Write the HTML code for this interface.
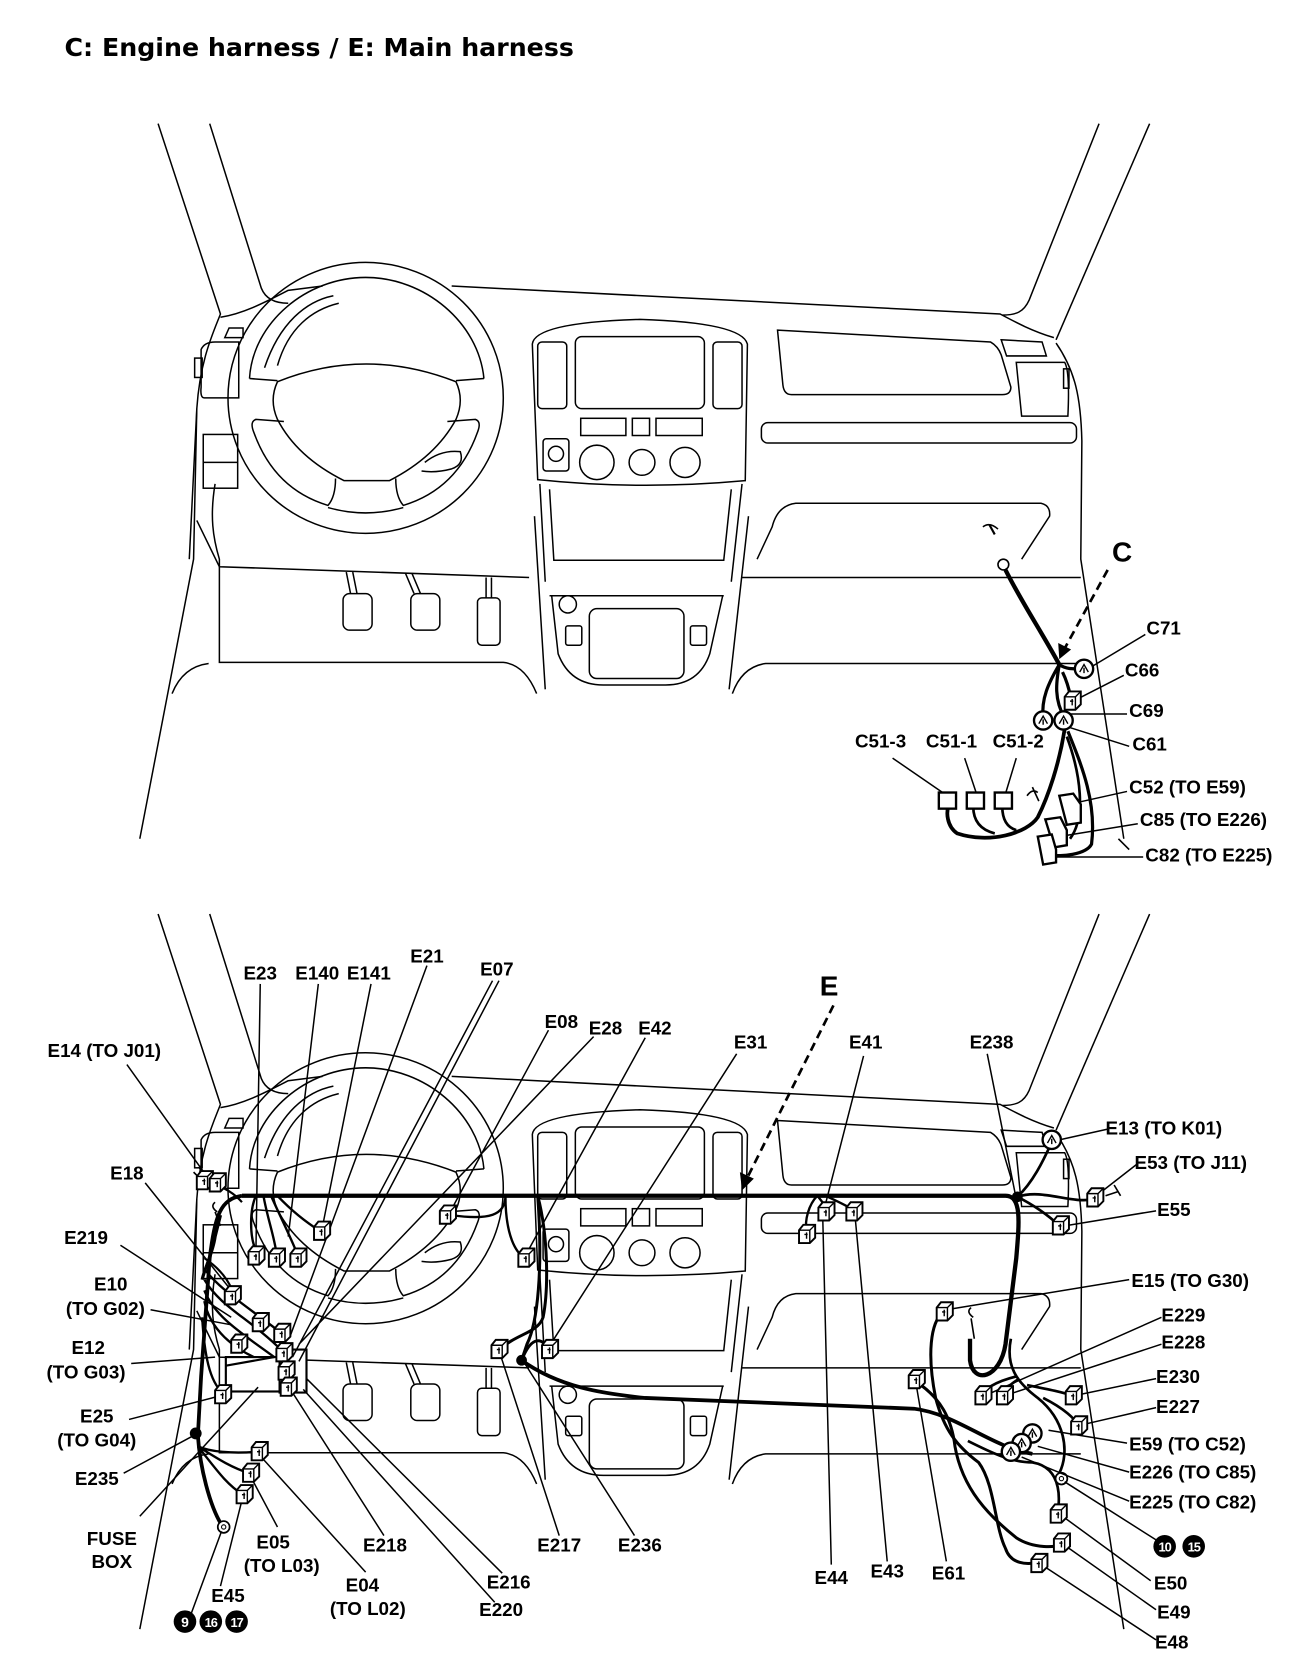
<!DOCTYPE html>
<html><head><meta charset="utf-8"><style>
html,body{margin:0;padding:0;background:#fff}
svg{display:block}
text{font-family:"Liberation Sans",Arial,sans-serif;font-weight:bold;font-size:17.5px;fill:#000}
.t{font-family:"DejaVu Sans","Liberation Sans",sans-serif;font-size:23.5px;font-weight:bold}
</style></head><body>
<svg width="1312" height="1670" viewBox="0 0 1220 1553" preserveAspectRatio="none" xmlns="http://www.w3.org/2000/svg">
<defs>
<g id="cube"><path d="M-7,-4 L-3,-9 L8,-9 L8,3 L3,8 L-7,8 Z" fill="#fff" stroke="#000" stroke-width="1.8"/><path d="M-7,-4 L3,-4 L8,-9 M3,-4 L3,8 M-2,0 L1,0 M0,-2 L0,4" fill="none" stroke="#000" stroke-width="1.3"/></g>
<g id="hex"><circle r="8.5" fill="#fff" stroke="#000" stroke-width="2.2"/><path d="M-4,3 L0,-4 L4,3 M0,-1 L0,4" fill="none" stroke="#000" stroke-width="1.3"/></g>
<g id="dash" fill="none" stroke="#000" stroke-width="1.4">
<path d="M147,115 L205,292 C198,310 186,335 183,380 L176,520"/>
<path d="M195,115 L243,268 C247,278 256,282 268,282"/>
<path d="M205,295 C225,292 245,282 268,270 L300,266"/>
<path d="M420,266 L930,292 C945,300 960,308 980,314"/>
<path d="M1069,115 L982,316"/>
<path d="M1022,115 L957,279 C952,290 945,293 932,293"/>
<path d="M982,319 C1000,345 1005,370 1006,410 L1005,520 L1045,780"/>
<path d="M183,380 L180,520 L130,780"/>
<path d="M200,450 C195,480 198,500 204,520 L204,527"/>
<path d="M187,325 Q190,318 200,318 L222,318 L222,370 L190,370 Q186,370 187,360 Z"/>
<rect x="189" y="404" width="32" height="50"/><line x1="189" y1="430" x2="221" y2="430"/>
<path d="M209,314 L213,305 L226,305 L226,314 Z"/>
<rect x="181" y="333" width="7" height="18"/>
<ellipse cx="340" cy="370" rx="128" ry="126"/>
<path d="M232,352 C235,300 285,258 340,258 C395,258 445,300 450,352"/>
<path d="M232,352 L258,354"/><path d="M450,352 L424,354"/>
<path d="M246,342 C260,300 285,280 310,275 M258,340 C268,305 290,288 315,282"/>
<path d="M258,355 Q340,322 424,355 Q432,372 424,390 Q405,425 362,447 L320,447 Q276,425 258,390 Q250,372 258,355 Z"/>
<path d="M264,392 L238,390 Q232,392 236,402 Q255,455 305,470 Q312,462 312,445"/>
<path d="M416,392 L442,390 Q448,392 444,402 Q425,455 375,470 Q368,462 368,445"/>
<path d="M305,472 Q340,482 375,472"/>
<path d="M395,430 Q410,418 428,420 Q432,432 420,436 Q405,440 392,438"/>
<path d="M495,320 Q497,300 595,297 Q690,300 695,320 L693,447 Q595,456 500,446 Z"/>
<rect x="535" y="313" width="120" height="67" rx="6"/>
<rect x="500" y="318" width="27" height="62" rx="4"/><rect x="663" y="318" width="27" height="62" rx="4"/>
<rect x="540" y="389" width="42" height="16"/><rect x="588" y="389" width="16" height="16"/><rect x="610" y="389" width="43" height="16"/>
<circle cx="555" cy="430" r="16"/><circle cx="597" cy="430" r="12"/><circle cx="637" cy="430" r="14"/>
<rect x="505" y="408" width="24" height="30" rx="3"/><circle cx="517" cy="422" r="7"/>
<path d="M502,450 L507,541 M497,480 L507,641"/>
<path d="M690,450 L680,541 M696,480 L678,641"/>
<path d="M511,455 L515,521 L673,521 L680,455"/>
<path d="M511,554 L673,554"/>
<path d="M513,554 L519,608 Q530,637 561,637 L619,637 Q650,637 660,608 L672,554"/>
<circle cx="528" cy="562" r="8"/>
<rect x="526" y="582" width="15" height="18" rx="2"/><rect x="642" y="582" width="15" height="18" rx="2"/>
<rect x="548" y="566" width="88" height="65" rx="7"/>
<path d="M183,484 L204,527 L492,537"/>
<path d="M204,527 L204,616 L468,616 Q488,618 499,645"/>
<path d="M194,617 Q170,620 160,645"/>
<path d="M690,537 L1005,537"/>
<path d="M681,645 Q690,620 712,617 L1005,617"/>
<rect x="319" y="552" width="27" height="34" rx="6"/><rect x="382" y="552" width="27" height="34" rx="6"/><rect x="444" y="556" width="21" height="44" rx="4"/>
<path d="M322,532 L326,552 M328,532 L332,552 M377,533 L385,552 M383,533 L391,552 M452,537 L452,556 M457,537 L457,556"/>
<path d="M723,307 L921,318 Q928,322 931,330 L940,360 Q940,367 932,367 L736,367 Q729,367 728,358 Z"/>
<rect x="708" y="393" width="293" height="19" rx="6"/>
<path d="M945,337 L990,337 Q995,345 993,387 L950,387 Z"/>
<path d="M931,316 L969,318 L973,331 L936,331 Z"/>
<rect x="989" y="343" width="5" height="18"/>
<path d="M704,520 L718,490 Q723,470 740,468 L968,468 Q977,470 976,480 L950,520"/>
</g>
</defs>
<text x="60" y="52" class="t">C: Engine harness / E: Main harness</text>

<use href="#dash"/>
<use href="#dash" transform="translate(0,735)"/>

<!-- TOP: C harness -->
<g fill="none" stroke="#000">
<path d="M920,488 L925,497" stroke-width="2"/><path d="M914,490 Q920,485 928,492" stroke-width="1.5"/>
<circle cx="933" cy="525" r="5" fill="#fff" stroke-width="1.5"/>
<path d="M935,530 C950,560 970,590 985,618" stroke-width="4"/>
<path d="M985,618 C975,635 968,650 970,668 M985,618 C982,635 980,650 990,668 M985,618 C995,625 1005,620 1010,622 M988,625 C993,635 995,645 996,650" stroke-width="3"/>
<path d="M990,678 C985,710 975,740 965,760 C955,775 920,785 890,775 C880,768 880,755 882,750" stroke-width="3.5"/>
<path d="M905,750 Q905,770 925,775 M932,750 Q932,768 945,772" stroke-width="2.5"/>
<path d="M993,680 C1005,710 1020,745 1015,785 C1010,795 985,797 978,795" stroke-width="3"/>
<path d="M992,685 C1005,720 1010,760 995,780" stroke-width="2.5"/>
<path d="M955,740 Q960,733 965,737 M960,732 L966,745 M1040,780 L1050,790" stroke-width="1.5"/>
<line x1="1030" y1="530" x2="990" y2="603" stroke-width="2.5" stroke-dasharray="8,5"/>
<path d="M985,613 L984,598 L996,604 Z" fill="#000" stroke="none"/>
<path d="M1065,590 L1015,620 M1045,628 L1002,650 M1048,664 L993,664 M1050,694 L993,676 M830,705 L878,738 M897,705 L908,738 M945,705 L935,738 M1048,736 L1003,746 M1058,766 L991,777 M1063,797 L980,797" stroke-width="1.4"/>
</g>
<use href="#hex" x="1008" y="622"/><use href="#cube" x="997" y="652"/><use href="#hex" x="970" y="670"/><use href="#hex" x="989" y="670"/>
<g fill="#fff" stroke="#000" stroke-width="2.2"><rect x="873" y="737" width="16" height="15"/><rect x="899" y="737" width="16" height="15"/><rect x="925" y="737" width="16" height="15"/>
<path d="M985,740 L998,738 L1005,748 L1005,765 L992,767 Z"/><path d="M972,762 L986,760 L992,772 L992,786 L980,788 Z"/><path d="M965,778 L978,776 L982,790 L982,802 L970,804 Z"/></g>
<text x="1034" y="522" style="font-size:26px">C</text>
<text x="1066" y="590">C71</text><text x="1046" y="629">C66</text><text x="1050" y="667">C69</text><text x="1053" y="698">C61</text>
<text x="795" y="695">C51-3</text><text x="861" y="695">C51-1</text><text x="923" y="695">C51-2</text>
<text x="1050" y="738">C52 (TO E59)</text><text x="1060" y="768">C85 (TO E226)</text><text x="1065" y="801">C82 (TO E225)</text>

<!-- BOTTOM: E harness -->
<g fill="none" stroke="#000">
<path d="M225,1112 L935,1112 C950,1112 948,1135 945,1170 L935,1250 C930,1282 905,1288 902,1265 L902,1245" stroke-width="4"/>
<path d="M225,1112 C205,1115 200,1130 195,1170 L187,1280 L184,1335 C186,1365 195,1400 206,1418" stroke-width="3.5"/>
<path d="M205,1130 L200,1150 C198,1165 190,1180 188,1190" stroke-width="3"/>
<path d="M190,1180 C205,1200 230,1215 262,1240 M190,1190 C205,1215 230,1225 258,1252 M190,1200 C200,1225 225,1240 255,1262 M190,1210 C195,1235 215,1255 250,1268 M188,1225 C190,1260 195,1285 207,1295" stroke-width="2.2"/>
<path d="M190,1170 C205,1180 212,1190 216,1200" stroke-width="2"/>
<path d="M196,1100 C210,1105 218,1110 225,1118" stroke-width="2"/>
<path d="M238,1112 C232,1125 232,1150 238,1163 M245,1112 C248,1130 255,1150 257,1165 M252,1112 C260,1130 270,1150 276,1165 M258,1112 C275,1130 290,1140 298,1145" stroke-width="2.2"/>
<path d="M470,1112 C470,1130 455,1135 420,1130 M470,1112 C470,1150 480,1165 488,1170" stroke-width="2.2"/>
<path d="M500,1112 C510,1150 510,1200 505,1225 C500,1240 480,1240 465,1255 M500,1112 C505,1180 500,1230 490,1250 L485,1265 C495,1240 505,1245 510,1255" stroke-width="2.8"/>
<path d="M485,1265 C520,1290 560,1296 600,1300 L850,1310 C890,1315 920,1345 960,1352" stroke-width="3.5"/>
<circle cx="485" cy="1265" r="4.5" fill="#000"/>
<path d="M760,1112 C752,1120 748,1135 750,1145 M760,1112 C765,1118 768,1122 768,1126 M768,1112 C780,1118 790,1122 793,1126" stroke-width="2.2"/>
<circle cx="946" cy="1113" r="4.5" fill="#000"/>
<path d="M946,1113 C960,1100 970,1080 978,1062 M946,1113 C970,1105 995,1120 1018,1115 M946,1113 C960,1120 975,1130 985,1140" stroke-width="2.5"/>
<path d="M1028,1112 L1040,1108 M1036,1102 L1042,1112" stroke-width="1.5"/>
<path d="M877,1220 C865,1230 862,1260 870,1300 C878,1330 890,1345 910,1360 C925,1380 925,1420 935,1440 C940,1455 955,1455 965,1453" stroke-width="2.8"/>
<path d="M852,1285 C875,1300 885,1320 888,1345 C895,1385 920,1410 945,1430 C960,1440 985,1440 986,1435" stroke-width="2.8"/>
<path d="M940,1245 C935,1270 945,1285 965,1300 C990,1320 995,1350 985,1370 M945,1280 C925,1285 915,1292 913,1298 M948,1282 C935,1290 933,1295 933,1298 M955,1288 C975,1292 990,1295 997,1298 M970,1300 C990,1310 1000,1320 1002,1325" stroke-width="2.5"/>
<path d="M900,1340 C920,1350 940,1360 960,1360 C990,1365 985,1400 983,1408" stroke-width="2.5"/>
<path d="M184,1345 C195,1350 215,1352 240,1350 M184,1345 C200,1355 215,1365 232,1370 M184,1345 C200,1365 210,1380 226,1390" stroke-width="2.2"/>
<path d="M202,1127 Q195,1122 200,1118 M200,1127 L205,1140" stroke-width="1.5"/>
<path d="M905,1225 Q898,1220 903,1216 M903,1226 L906,1245" stroke-width="1.5"/>
<path d="M185,1085 L190,1095 M180,1090 L188,1098" stroke-width="1.5"/>
<circle cx="182" cy="1333" r="5" fill="#000"/>
<circle cx="208" cy="1420" r="5.5" fill="#fff" stroke-width="1.6"/><circle cx="208" cy="1420" r="2" fill="#fff" stroke-width="1"/>
<circle cx="987" cy="1375" r="5.5" fill="#fff" stroke-width="1.6"/><circle cx="987" cy="1375" r="2" fill="#fff" stroke-width="1"/>
<rect x="210" y="1262" width="50" height="32" fill="#fff" stroke-width="2"/>
<path d="M210,1270 L255,1262 M260,1255 L285,1255 L285,1295 L260,1295 Z" stroke-width="2" fill="#fff"/>
<line x1="775" y1="935" x2="695" y2="1095" stroke-width="2.5" stroke-dasharray="8,5"/>
<path d="M690,1107 L688,1090 L701,1096 Z" fill="#000" stroke="none"/>
<g stroke-width="1.4">
<path d="M118,990 L193,1095 M135,1100 L215,1200 M112,1158 L215,1225 M140,1218 L215,1232 M122,1268 L200,1262 M120,1320 L205,1298 M115,1370 L180,1335 M130,1410 L240,1290"/>
<path d="M205,1475 L225,1395 M178,1500 L206,1424 M258,1420 L233,1373 M340,1462 L243,1355 M357,1428 L272,1295 M467,1463 L285,1282 M460,1490 L282,1292"/>
<path d="M520,1428 L466,1262 M590,1428 L488,1268 M773,1455 L765,1130 M825,1452 L795,1130 M880,1452 L852,1288"/>
<path d="M242,915 L238,1162 M296,915 L268,1150 M345,915 L300,1140 M397,898 L270,1242 M458,912 L272,1262 M464,912 L278,1266 M510,958 L418,1128 M552,964 L278,1250 M600,965 L490,1165 M685,980 L512,1250"/>
<path d="M803,982 L767,1122 M918,980 L944,1110 M1030,1050 L985,1060 M1058,1082 L1022,1110 M1075,1126 L990,1140 M1050,1190 L880,1218"/>
<path d="M1080,1225 L920,1296 M1080,1250 L940,1296 M1075,1282 L1003,1297 M1075,1309 L1006,1325 M1048,1342 L975,1330 M1050,1369 L965,1345 M1050,1396 L950,1355 M1075,1432 L990,1378 M1070,1470 L988,1410 M1075,1497 L990,1437 M1075,1525 L970,1456"/>
</g>
</g>
<use href="#cube" x="190" y="1098"/><use href="#cube" x="202" y="1100"/>
<use href="#cube" x="216" y="1205"/><use href="#cube" x="242" y="1230"/><use href="#cube" x="262" y="1240"/><use href="#cube" x="264" y="1258"/><use href="#cube" x="266" y="1275"/><use href="#cube" x="268" y="1290"/><use href="#cube" x="222" y="1250"/>
<use href="#cube" x="207" y="1297"/>
<use href="#cube" x="238" y="1168"/><use href="#cube" x="257" y="1170"/><use href="#cube" x="277" y="1170"/><use href="#cube" x="299" y="1145"/>
<use href="#cube" x="416" y="1130"/><use href="#cube" x="489" y="1170"/><use href="#cube" x="464" y="1255"/><use href="#cube" x="511" y="1255"/>
<use href="#cube" x="241" y="1350"/><use href="#cube" x="233" y="1370"/><use href="#cube" x="227" y="1390"/>
<use href="#cube" x="750" y="1148"/><use href="#cube" x="768" y="1127"/><use href="#cube" x="794" y="1127"/>
<use href="#cube" x="986" y="1140"/><use href="#hex" x="978" y="1060"/><use href="#cube" x="1018" y="1114"/>
<use href="#cube" x="878" y="1220"/><use href="#cube" x="852" y="1283"/>
<use href="#cube" x="914" y="1298"/><use href="#cube" x="934" y="1298"/><use href="#cube" x="998" y="1298"/><use href="#cube" x="1003" y="1326"/>
<use href="#hex" x="960" y="1333"/><use href="#hex" x="950" y="1342"/><use href="#hex" x="940" y="1350"/>
<use href="#cube" x="984" y="1408"/><use href="#cube" x="987" y="1435"/><use href="#cube" x="966" y="1454"/>
<g text-anchor="middle">
<text x="771" y="926" style="font-size:26px">E</text>
<text x="97" y="983">E14 (TO J01)</text><text x="118" y="1097">E18</text><text x="80" y="1157">E219</text>
<text x="103" y="1200">E10</text><text x="98" y="1223">(TO G02)</text>
<text x="82" y="1259">E12</text><text x="80" y="1282">(TO G03)</text>
<text x="90" y="1323">E25</text><text x="90" y="1345">(TO G04)</text><text x="90" y="1381">E235</text>
<text x="104" y="1437">FUSE</text><text x="104" y="1458">BOX</text>
<text x="212" y="1490">E45</text>
<text x="254" y="1440">E05</text><text x="262" y="1462">(TO L03)</text>
<text x="337" y="1480">E04</text><text x="342" y="1502">(TO L02)</text>
<text x="358" y="1443">E218</text><text x="473" y="1477">E216</text><text x="466" y="1503">E220</text>
<text x="520" y="1443">E217</text><text x="595" y="1443">E236</text>
<text x="773" y="1473">E44</text><text x="825" y="1467">E43</text><text x="882" y="1469">E61</text>
<text x="242" y="911">E23</text><text x="295" y="911">E140</text><text x="343" y="911">E141</text><text x="397" y="895">E21</text><text x="462" y="907">E07</text>
<text x="522" y="956">E08</text><text x="563" y="962">E28</text><text x="609" y="962">E42</text><text x="698" y="975">E31</text><text x="805" y="975">E41</text><text x="922" y="975">E238</text>
</g>
<text x="1028" y="1055">E13 (TO K01)</text><text x="1055" y="1087">E53 (TO J11)</text><text x="1076" y="1131">E55</text>
<text x="1052" y="1197">E15 (TO G30)</text><text x="1080" y="1229">E229</text><text x="1080" y="1254">E228</text>
<text x="1075" y="1286">E230</text><text x="1075" y="1314">E227</text>
<text x="1050" y="1349">E59 (TO C52)</text><text x="1050" y="1375">E226 (TO C85)</text><text x="1050" y="1403">E225 (TO C82)</text>
<text x="1073" y="1478">E50</text><text x="1076" y="1505">E49</text><text x="1074" y="1533">E48</text>
<g>
<circle cx="172" cy="1508" r="10.5"/><circle cx="196" cy="1508" r="10.5"/><circle cx="220" cy="1508" r="10.5"/>
<circle cx="1083" cy="1438" r="10.5"/><circle cx="1110" cy="1438" r="10.5"/>
</g>
<g text-anchor="middle">
<text x="172" y="1513" style="fill:#fff;font-size:13px">9</text><text x="196" y="1513" style="fill:#fff;font-size:12px;letter-spacing:-1px">16</text><text x="220" y="1513" style="fill:#fff;font-size:12px;letter-spacing:-1px">17</text>
<text x="1083" y="1443" style="fill:#fff;font-size:12px;letter-spacing:-1px">10</text><text x="1110" y="1443" style="fill:#fff;font-size:12px;letter-spacing:-1px">15</text>
</g>
</svg>
</body></html>
